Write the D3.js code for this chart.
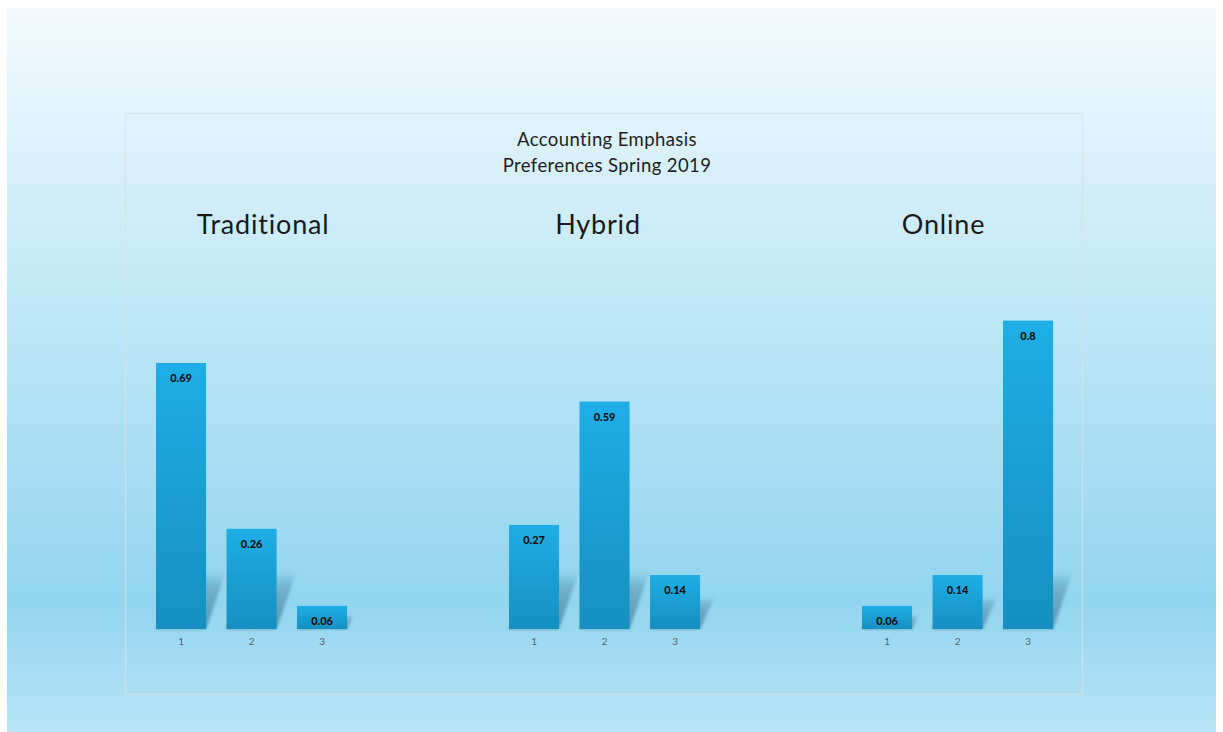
<!DOCTYPE html>
<html><head><meta charset="utf-8">
<script src="https://cdn.jsdelivr.net/npm/d3@7"></script>
<style>html,body{margin:0;padding:0;background:#fff;overflow:hidden}</style>
</head><body>
<script>
// ---- data ----
const groups = ["Traditional", "Hybrid", "Online"];
const categories = ["1", "2", "3"];
const traditionalValues = [0.69, 0.26, 0.06];
const hybridValues = [0.27, 0.59, 0.14];
const onlineValues = [0.06, 0.14, 0.8];
const seriesValues = [traditionalValues, hybridValues, onlineValues];
const titleLines = ["Accounting Emphasis", "Preferences Spring 2019"];

// ---- layout ----
const W = 1223, H = 732;
const font = "'Lato','Open Sans','DejaVu Sans',sans-serif";
const svg = d3.select("body").append("svg").attr("width", W).attr("height", H);
const defs = svg.append("defs");

const bg = defs.append("linearGradient").attr("id","bg").attr("x1",0).attr("y1",0).attr("x2",0).attr("y2",1);
[[0,"#f3fafe"],[0.4,"#c1e8f7"],[0.82,"#93d5ef"],[1,"#b7e4f6"]].forEach(s=>bg.append("stop").attr("offset",s[0]).attr("stop-color",s[1]));
const barG = defs.append("linearGradient").attr("id","barg").attr("x1",0).attr("y1",0).attr("x2",0).attr("y2",1);
[[0,"#1eaee5"],[1,"#168fc0"]].forEach(s=>barG.append("stop").attr("offset",s[0]).attr("stop-color",s[1]));
const shG = defs.append("linearGradient").attr("id","shg").attr("x1",0).attr("y1",1).attr("x2",0).attr("y2",0);
[[0,"rgba(20,80,115,0.5)"],[0.7,"rgba(20,80,115,0.28)"],[1,"rgba(20,80,115,0)"]].forEach(s=>shG.append("stop").attr("offset",s[0]).attr("stop-color",s[1]));
defs.append("filter").attr("id","blur").append("feGaussianBlur").attr("stdDeviation",1.5);

svg.append("rect").attr("x",7).attr("y",8).attr("width",1209).attr("height",724).attr("fill","url(#bg)");
svg.append("rect").attr("x",125.5).attr("y",113.5).attr("width",957).attr("height",581)
  .attr("fill","none").attr("stroke","rgba(215,225,232,0.7)").attr("stroke-width",1.5);

// title
svg.append("text").attr("x",607).attr("y",146).attr("text-anchor","middle")
  .style("font-family",font).style("font-size","18.5px").style("letter-spacing","0.4px").attr("fill","#1e1e1e")
  .selectAll("tspan").data(titleLines).join("tspan")
  .attr("x",607).attr("dy",(d,i)=>i?26:0).text(d=>d);

// scales
const groupX = d3.scaleBand().domain(groups).range([145.8, 1204.8]);
const inner = d3.scaleBand().domain(categories).range([0, 211.5]).paddingInner(0.29).paddingOuter(0.145);
const y = d3.scaleLinear().domain([0, 1]).range([629, 629 - 385.5]);
const titleOffset = [11.5, -6.5, -14];

groups.forEach((g, gi) => {
  const gx = groupX(g);
  const G = svg.append("g").attr("transform", `translate(${gx},0)`);
  const vals = seriesValues[gi];
  const data = categories.map((c, i) => ({c, v: vals[i]}));
  const bw = inner.bandwidth();

  // shadows
  G.selectAll("path.sh").data(data).join("path").attr("class","sh")
    .attr("d", d => {
      const x0 = inner(d.c), x1 = x0 + bw, b = y(0);
      const rise = Math.min((y(0) - y(d.v)) * 0.6, 58), dx = Math.min(rise * 0.45, 20);
      return `M${x0},${b}L${x1},${b}L${x1+dx},${b-rise}L${x0+dx},${b-rise}Z`;
    })
    .attr("fill","url(#shg)").attr("filter","url(#blur)");

  G.selectAll("rect.bar").data(data).join("rect").attr("class","bar")
    .attr("x", d => inner(d.c)).attr("width", bw)
    .attr("y", d => y(d.v)).attr("height", d => y(0) - y(d.v))
    .attr("fill","url(#barg)");

  G.selectAll("text.val").data(data).join("text").attr("class","val")
    .attr("x", d => inner(d.c) + bw/2).attr("y", d => y(d.v) + 19)
    .attr("text-anchor","middle").style("font-family",font).style("font-size","11px")
    .style("font-weight","900").attr("fill","#111").text(d => d.v);

  const ax = G.append("g").attr("transform",`translate(0,${y(0)})`)
    .call(d3.axisBottom(inner).tickSize(0).tickPadding(9));
  ax.select(".domain").remove();
  ax.selectAll("text").style("font-family",font).style("font-size","10px").attr("fill","#5a6670");

  svg.append("text").attr("x", gx + 105.75 + titleOffset[gi]).attr("y", 234)
    .attr("text-anchor","middle").style("font-family",font).style("font-size","27px")
    .style("letter-spacing","0.8px").attr("fill","#1a1a1a").text(g);
});
</script>
</body></html>
